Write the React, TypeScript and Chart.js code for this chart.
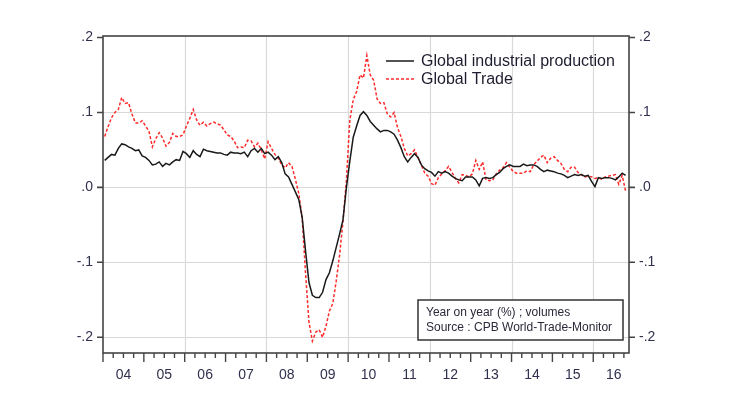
import React, { useEffect, useRef } from "react";
import { Chart, registerables } from "chart.js";

Chart.register(...registerables);

// Monthly data, Jan 2004 .. Oct 2016 (year-on-year growth, fraction)
const industrialProduction: number[] = [
  0.036, 0.040, 0.044, 0.043, 0.052, 0.058, 0.057, 0.054, 0.052, 0.049, 0.050, 0.042,
  0.040, 0.036, 0.030, 0.031, 0.034, 0.028, 0.032, 0.030, 0.034, 0.037, 0.036, 0.048,
  0.045, 0.040, 0.049, 0.044, 0.041, 0.051, 0.049, 0.048, 0.047, 0.046, 0.046, 0.044,
  0.043, 0.047, 0.046, 0.046, 0.045, 0.047, 0.041, 0.049, 0.052, 0.047, 0.052, 0.045,
  0.047, 0.043, 0.037, 0.041, 0.033, 0.018, 0.014, 0.004, -0.006, -0.016, -0.040, -0.085,
  -0.127, -0.144, -0.147, -0.147, -0.140, -0.123, -0.114, -0.098, -0.080, -0.062, -0.043, 0.000,
  0.035, 0.067, 0.082, 0.096, 0.101, 0.096, 0.088, 0.083, 0.078, 0.074, 0.076, 0.076,
  0.074, 0.071, 0.063, 0.053, 0.041, 0.034, 0.040, 0.045, 0.040, 0.030, 0.025, 0.022,
  0.020, 0.015, 0.021, 0.019, 0.021, 0.019, 0.015, 0.012, 0.010, 0.009, 0.014, 0.014,
  0.014, 0.010, 0.002, 0.012, 0.013, 0.012, 0.013, 0.017, 0.020, 0.025, 0.028, 0.030,
  0.028, 0.028, 0.028, 0.031, 0.029, 0.030, 0.030, 0.028, 0.024, 0.021, 0.023, 0.022,
  0.021, 0.019, 0.018, 0.016, 0.013, 0.015, 0.017, 0.016, 0.017, 0.015, 0.016, 0.008,
  0.001, 0.013, 0.012, 0.013, 0.013, 0.012, 0.010, 0.014, 0.019, 0.016,
];

const globalTrade: number[] = [
  0.068, 0.081, 0.093, 0.100, 0.104, 0.120, 0.112, 0.113, 0.098, 0.086, 0.086, 0.089,
  0.082, 0.075, 0.054, 0.065, 0.073, 0.066, 0.055, 0.060, 0.072, 0.068, 0.068, 0.070,
  0.082, 0.092, 0.104, 0.090, 0.083, 0.087, 0.082, 0.085, 0.087, 0.085, 0.083, 0.077,
  0.070, 0.068, 0.062, 0.053, 0.054, 0.053, 0.063, 0.062, 0.054, 0.059, 0.050, 0.038,
  0.061, 0.052, 0.044, 0.039, 0.030, 0.026, 0.033, 0.028, 0.011, -0.008, -0.040, -0.115,
  -0.180, -0.205, -0.193, -0.190, -0.200, -0.185, -0.165, -0.155, -0.125, -0.090, -0.045, 0.010,
  0.090, 0.117, 0.128, 0.150, 0.146, 0.176, 0.150, 0.143, 0.118, 0.112, 0.113, 0.098,
  0.094, 0.100, 0.080, 0.068, 0.052, 0.042, 0.045, 0.050, 0.040, 0.030, 0.019, 0.015,
  0.005, 0.003, 0.013, 0.018, 0.022, 0.028, 0.020, 0.012, 0.006, 0.017, 0.016, 0.014,
  0.018, 0.036, 0.024, 0.034, 0.010, 0.009, 0.010, 0.018, 0.023, 0.026, 0.033, 0.027,
  0.021, 0.019, 0.019, 0.019, 0.022, 0.021, 0.030, 0.035, 0.040, 0.043, 0.033, 0.039,
  0.041, 0.036, 0.032, 0.024, 0.021, 0.027, 0.027, 0.020, 0.017, 0.014, 0.015, 0.014,
  0.012, 0.013, 0.011, 0.014, 0.015, 0.016, 0.017, 0.004, 0.016, -0.005,
];

const yearLabels: string[] = ["04", "05", "06", "07", "08", "09", "10", "11", "12", "13", "14", "15", "16"];
const yTickValues: number[] = [0.2, 0.1, 0, -0.1, -0.2];
const yTickLabels: string[] = [".2", ".1", ".0", "-.1", "-.2"];
const gridYears: number[] = [2, 4, 6, 8, 10, 12]; // years after 2004 with vertical grid lines
const seriesNames: string[] = ["Global industrial production", "Global Trade"];
const noteLines: string[] = ["Year on year (%) ; volumes", "Source : CPB World-Trade-Monitor"];

const LABEL_COLOR = "#30304f";
const AXIS_COLOR = "#444444";
const FONT = "Liberation Sans, Arial, sans-serif";

const framePlugin = {
  id: "frame",
  beforeDatasetsDraw(chart: any) {
    const { ctx, chartArea } = chart;
    const xs = chart.scales.x;
    const ys = chart.scales.y;
    ctx.save();
    ctx.strokeStyle = "#d9d9d9";
    ctx.lineWidth = 1.2;
    for (const v of yTickValues) {
      const y = Math.round(ys.getPixelForValue(v)) + 0.5;
      if (y <= chartArea.top + 2) continue;
      ctx.beginPath();
      ctx.moveTo(chartArea.left, y);
      ctx.lineTo(chartArea.right, y);
      ctx.stroke();
    }
    for (const yr of gridYears) {
      const x = Math.round(xs.getPixelForValue(yr * 12 - 0.5)) + 0.5;
      ctx.beginPath();
      ctx.moveTo(x, chartArea.top);
      ctx.lineTo(x, chartArea.bottom);
      ctx.stroke();
    }
    ctx.restore();
  },
  afterDatasetsDraw(chart: any) {
    const { ctx, chartArea } = chart;
    const xs = chart.scales.x;
    const ys = chart.scales.y;
    const { left, right, top, bottom } = chartArea;
    ctx.save();
    // frame
    ctx.strokeStyle = AXIS_COLOR;
    ctx.lineWidth = 1.6;
    ctx.strokeRect(left, top, right - left, bottom - top);

    // y ticks and labels, both sides
    ctx.font = `14px ${FONT}`;
    ctx.fillStyle = LABEL_COLOR;
    ctx.textBaseline = "middle";
    yTickValues.forEach((v, i) => {
      const y = ys.getPixelForValue(v);
      ctx.beginPath();
      ctx.moveTo(left - 6, y);
      ctx.lineTo(left, y);
      ctx.moveTo(right, y);
      ctx.lineTo(right + 6, y);
      ctx.stroke();
      ctx.textAlign = "right";
      ctx.fillText(yTickLabels[i], left - 10, y);
      ctx.textAlign = "left";
      ctx.fillText(yTickLabels[i], right + 10, y);
    });

    // x ticks: quarterly minor, yearly major
    ctx.lineWidth = 1.4;
    for (let q = 0; q <= yearLabels.length * 4; q++) {
      const x = xs.getPixelForValue(q * 3 - 0.5);
      if (x < left - 1 || x > right + 1) continue;
      const len = q % 4 === 0 ? 9 : 5;
      ctx.beginPath();
      ctx.moveTo(x, bottom);
      ctx.lineTo(x, bottom + len);
      ctx.stroke();
    }
    ctx.textAlign = "center";
    ctx.textBaseline = "middle";
    yearLabels.forEach((lab, i) => {
      const x = xs.getPixelForValue(i * 12 + 5.5);
      ctx.fillText(lab, x, 375);
    });

    // legend
    const ds = chart.data.datasets;
    const legendX = 386;
    const legendY = [61, 79];
    ctx.font = `16px ${FONT}`;
    ctx.textAlign = "left";
    ctx.fillStyle = "#1e1e30";
    ds.forEach((d: any, i: number) => {
      ctx.beginPath();
      ctx.strokeStyle = d.borderColor;
      ctx.lineWidth = d.borderWidth;
      ctx.setLineDash(d.borderDash || []);
      ctx.moveTo(legendX, legendY[i]);
      ctx.lineTo(legendX + 28, legendY[i]);
      ctx.stroke();
      ctx.setLineDash([]);
      ctx.fillText(seriesNames[i], legendX + 35, legendY[i] + 1);
    });

    // note box
    const bx = 418, by = 300, bw = 205, bh = 40;
    ctx.fillStyle = "#ffffff";
    ctx.fillRect(bx, by, bw, bh);
    ctx.strokeStyle = "#333333";
    ctx.lineWidth = 1.5;
    ctx.strokeRect(bx, by, bw, bh);
    ctx.fillStyle = "#2a2a3a";
    ctx.font = `12px ${FONT}`;
    ctx.fillText(noteLines[0], 426, 313);
    ctx.fillText(noteLines[1], 426, 328);
    ctx.restore();
  },
};

export default function App() {
  const canvasRef = useRef<HTMLCanvasElement | null>(null);

  useEffect(() => {
    const canvas = canvasRef.current;
    if (!canvas) return;
    const months = industrialProduction.map((_, i) => i);
    const chart = new Chart(canvas, {
      type: "line",
      data: {
        datasets: [
          {
            label: seriesNames[0],
            data: industrialProduction.map((v, i) => ({ x: months[i], y: v })),
            borderColor: "#1a1a1a",
            borderWidth: 1.5,
            pointRadius: 0,
            tension: 0,
          },
          {
            label: seriesNames[1],
            data: globalTrade.map((v, i) => ({ x: months[i], y: v })),
            borderColor: "#ff2b2b",
            borderWidth: 1.5,
            borderDash: [3, 2],
            pointRadius: 0,
            tension: 0,
          },
        ],
      },
      options: {
        responsive: false,
        animation: false,
        layout: { padding: { left: 103, right: 101, top: 36, bottom: 57 } },
        plugins: { legend: { display: false }, tooltip: { enabled: false } },
        scales: {
          x: { type: "linear", display: false, min: -0.5, max: 154 },
          y: { type: "linear", display: false, min: -0.221, max: 0.202 },
        },
      },
      plugins: [framePlugin],
    });
    return () => chart.destroy();
  }, []);

  return (
    <div style={{ position: "fixed", left: 0, top: 0, width: 730, height: 410, background: "#fff" }}>
      <canvas ref={canvasRef} width={730} height={410} style={{ width: 730, height: 410 }} />
    </div>
  );
}
